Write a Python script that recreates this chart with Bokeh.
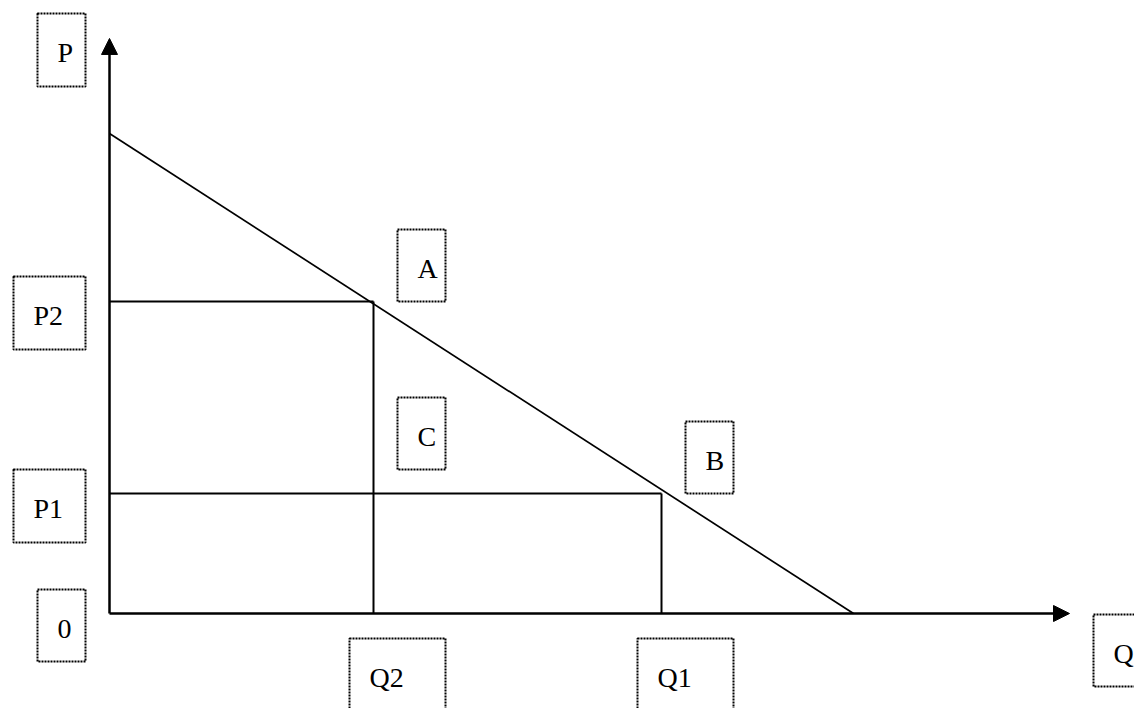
from bokeh.plotting import figure
from bokeh.models import Range1d, Arrow, NormalHead, ColumnDataSource
from bokeh.core.properties import value
from bokeh.embed import file_html
from bokeh.resources import INLINE

# ---- data (economic units) ----
demand_q = [0.0, 15.5]        # demand curve: quantity at ends
demand_p = [10.0, 0.0]        # demand curve: price at ends
price_levels = [6.5, 2.5]     # P2, P1
quantity_levels = [5.5, 11.5] # Q2, Q1
price_labels = ["P2", "P1"]
quantity_labels = ["Q2", "Q1"]
point_labels = ["A", "C", "B"]
axis_labels = ["P", "Q", "0"]
x_axis_end = 20.0
y_axis_end = 11.98

# ---- layout: pixel <-> data mapping ----
W, H = 1134, 708
PX = 48.0          # pixels per unit
OX, OY = 109, 613  # origin in canvas pixels

def dx(px):   # canvas x pixel -> data
    return (px - OX) / PX

def dy(py):   # canvas y pixel -> data
    return (OY - py) / PX

p = figure(width=W, height=H, output_backend="svg", toolbar_location=None,
           x_range=Range1d(dx(0), dx(W)), y_range=Range1d(dy(H), dy(0)),
           min_border=0, outline_line_color=None, border_fill_color="white")
p.xaxis.visible = False
p.yaxis.visible = False
p.grid.visible = False

# axes with arrows
p.add_layout(Arrow(end=NormalHead(size=16, fill_color="black", line_color="black", line_width=1),
                   x_start=0, y_start=0, x_end=0, y_end=y_axis_end,
                   line_width=2.5, line_color="black"))
p.add_layout(Arrow(end=NormalHead(size=16, fill_color="black", line_color="black", line_width=1),
                   x_start=0, y_start=0, x_end=x_axis_end, y_end=0,
                   line_width=2.5, line_color="black"))

# demand curve
p.line(demand_q, demand_p, line_color="black", line_width=1.7)

# horizontal price lines and vertical quantity lines
p.segment(x0=[0, 0], y0=price_levels, x1=quantity_levels, y1=price_levels,
          line_color="black", line_width=2)
p.segment(x0=quantity_levels, y0=[0, 0], x1=quantity_levels, y1=price_levels,
          line_color="black", line_width=2)

# label boxes: (text, left px, top px, width px, height px)
boxes = [
    (axis_labels[0], 37, 13, 48, 73),
    (price_labels[0], 13, 276, 72, 73),
    (price_labels[1], 13, 469, 72, 73),
    (axis_labels[2], 37, 589, 48, 72),
    (quantity_labels[0], 349, 638, 96, 74),
    (quantity_labels[1], 637, 638, 96, 74),
    (axis_labels[1], 1093, 614, 48, 72),
    (point_labels[0], 397, 229, 48, 72),
    (point_labels[1], 397, 397, 48, 72),
    (point_labels[2], 685, 421, 48, 72),
]

src = ColumnDataSource(dict(
    left=[dx(b[1]) for b in boxes],
    right=[dx(b[1] + b[3]) for b in boxes],
    top=[dy(b[2]) for b in boxes],
    bottom=[dy(b[2] + b[4]) for b in boxes],
    tx=[dx(b[1] + 20) for b in boxes],
    ty=[dy(b[2] + 39) for b in boxes],
    text=[b[0] for b in boxes],
))
p.quad(left="left", right="right", top="top", bottom="bottom", source=src,
       fill_color=None, line_color="black", line_width=2, line_dash=value("2 1"))
p.text(x="tx", y="ty", text="text", source=src, text_align="left",
       text_baseline="alphabetic", text_font=value("Liberation Serif"),
       text_font_size="28px", text_color="black")

open("out.html", "w").write(file_html(p, INLINE))
